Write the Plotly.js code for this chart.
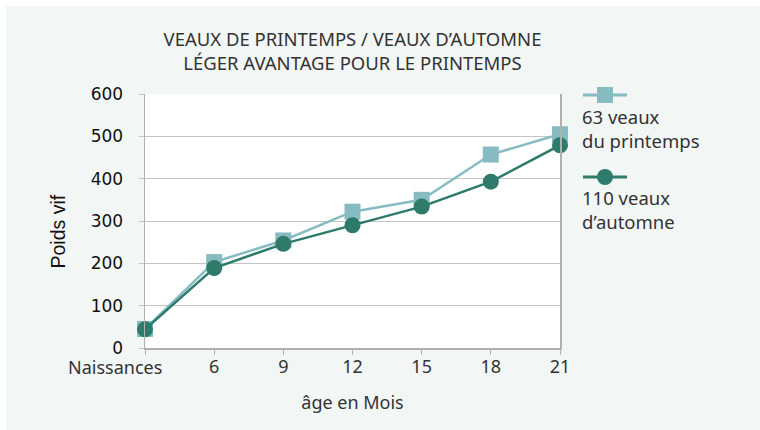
<!DOCTYPE html>
<html><head><meta charset="utf-8">
<script src="https://cdn.plot.ly/plotly-3.0.1.min.js"></script>
<style>
html,body{margin:0;padding:0;background:#fff;width:760px;height:430px;overflow:hidden}
#chart{position:absolute;left:6px;top:6px;width:754px;height:424px}
</style>
</head><body><div id="chart"></div>
<script>
// ---- data ----
const tickLabels = ['Naissances', '6', '9', '12', '15', '18', '21'];
const xIndex = [0, 1, 2, 3, 4, 5, 6];
const printemps = [45, 203, 254, 322, 350, 457, 505];
const automne = [44, 189, 246, 290, 334, 393, 479];
const yTicks = [0, 100, 200, 300, 400, 500, 600];
const seriesNames = ['63 veaux<br>du printemps', '110 veaux<br>d’automne'];
const titleText = 'VEAUX DE PRINTEMPS / VEAUX D’AUTOMNE<br>LÉGER AVANTAGE POUR LE PRINTEMPS';
const xTitle = 'âge en Mois';
const yTitle = 'Poids vif';

const cSpring = '#87bbc2';
const cAutumn = '#2e7b6c';
const txt = '#333333';
const grid = '#c4c4c4';
const noto = '"Noto Sans", "Open Sans", sans-serif';

const traces = [
  {x: xIndex, y: printemps, name: seriesNames[0], type: 'scatter', mode: 'lines+markers',
   line: {color: cSpring, width: 2.5}, marker: {symbol: 'square', size: 16, color: cSpring},
   cliponaxis: false, showlegend: false},
  {x: xIndex, y: automne, name: seriesNames[1], type: 'scatter', mode: 'lines+markers',
   line: {color: cAutumn, width: 2.5}, marker: {symbol: 'circle', size: 16, color: cAutumn},
   cliponaxis: false, showlegend: false}
];

// paper-coordinate helpers for legend placement (plot area 415 x 254 px)
const W = 415, H = 254;
const px = v => v / W, py = v => v / H;

const layout = {
  width: 754, height: 424,
  margin: {l: 139, r: 200, t: 88, b: 82},
  paper_bgcolor: '#f2f6f5', plot_bgcolor: '#ffffff',
  showlegend: false,
  title: {text: titleText, font: {family: noto, size: 18.5, color: txt},
          x: 0.5, xref: 'paper', xanchor: 'center', y: 1 - 40 / 424, yref: 'container', yanchor: 'middle'},
  xaxis: {
    range: [0, 6], tickvals: xIndex, ticktext: tickLabels.map((t, i) => i === 0 ? '' : t),
    showgrid: false, zeroline: false, showline: true, linecolor: '#b0b0b0', linewidth: 1.5,
    ticks: 'outside', ticklen: 5, tickcolor: '#b0b0b0', ticklabelstandoff: -3,
    tickfont: {family: noto, size: 18, color: txt},
    title: {text: xTitle, font: {family: noto, size: 18, color: txt}, standoff: 19}
  },
  yaxis: {
    range: [0, 600], tickvals: yTicks, showgrid: true, gridcolor: grid, gridwidth: 1,
    zeroline: false, showline: true, mirror: true, linecolor: '#b0b0b0', linewidth: 1.5,
    ticks: 'outside', ticklen: 5, tickcolor: grid, ticklabelstandoff: 12,
    tickfont: {family: '"DejaVu Sans", sans-serif', size: 17, color: '#111'}
  },
  shapes: [
    {type: 'line', xref: 'paper', yref: 'paper', x0: px(438), x1: px(482), y0: py(253), y1: py(253),
     line: {color: cSpring, width: 3}},
    {type: 'rect', xref: 'paper', yref: 'paper', x0: px(452), x1: px(468), y0: py(245), y1: py(261),
     fillcolor: cSpring, line: {width: 0}},
    {type: 'line', xref: 'paper', yref: 'paper', x0: px(438), x1: px(482), y0: py(171), y1: py(171),
     line: {color: cAutumn, width: 3}},
    {type: 'circle', xref: 'paper', yref: 'paper', x0: px(452), x1: px(468), y0: py(163), y1: py(179),
     fillcolor: cAutumn, line: {width: 0}}
  ],
  annotations: [
    {text: tickLabels[0], xref: 'x', x: 0, yref: 'paper', y: 0, xanchor: 'right', yanchor: 'top',
     xshift: 19, yshift: -5, showarrow: false, font: {family: noto, size: 18, color: txt}},
    {text: yTitle, xref: 'paper', x: (57.5 - 145) / W, yref: 'paper', y: py(116), xanchor: 'center', yanchor: 'middle',
     textangle: -90, showarrow: false, font: {family: '"Liberation Sans", Arial, sans-serif', size: 19.5, color: '#111'}},
    {text: seriesNames[0], xref: 'paper', x: px(435), yref: 'paper', y: py(220), xanchor: 'left', yanchor: 'middle',
     align: 'left', showarrow: false, font: {family: noto, size: 18.5, color: txt}},
    {text: seriesNames[1], xref: 'paper', x: px(435), yref: 'paper', y: py(139), xanchor: 'left', yanchor: 'middle',
     align: 'left', showarrow: false, font: {family: noto, size: 18.5, color: txt}}
  ]
};

Plotly.newPlot('chart', traces, layout, {displayModeBar: false, staticPlot: true});
</script>
</body></html>
